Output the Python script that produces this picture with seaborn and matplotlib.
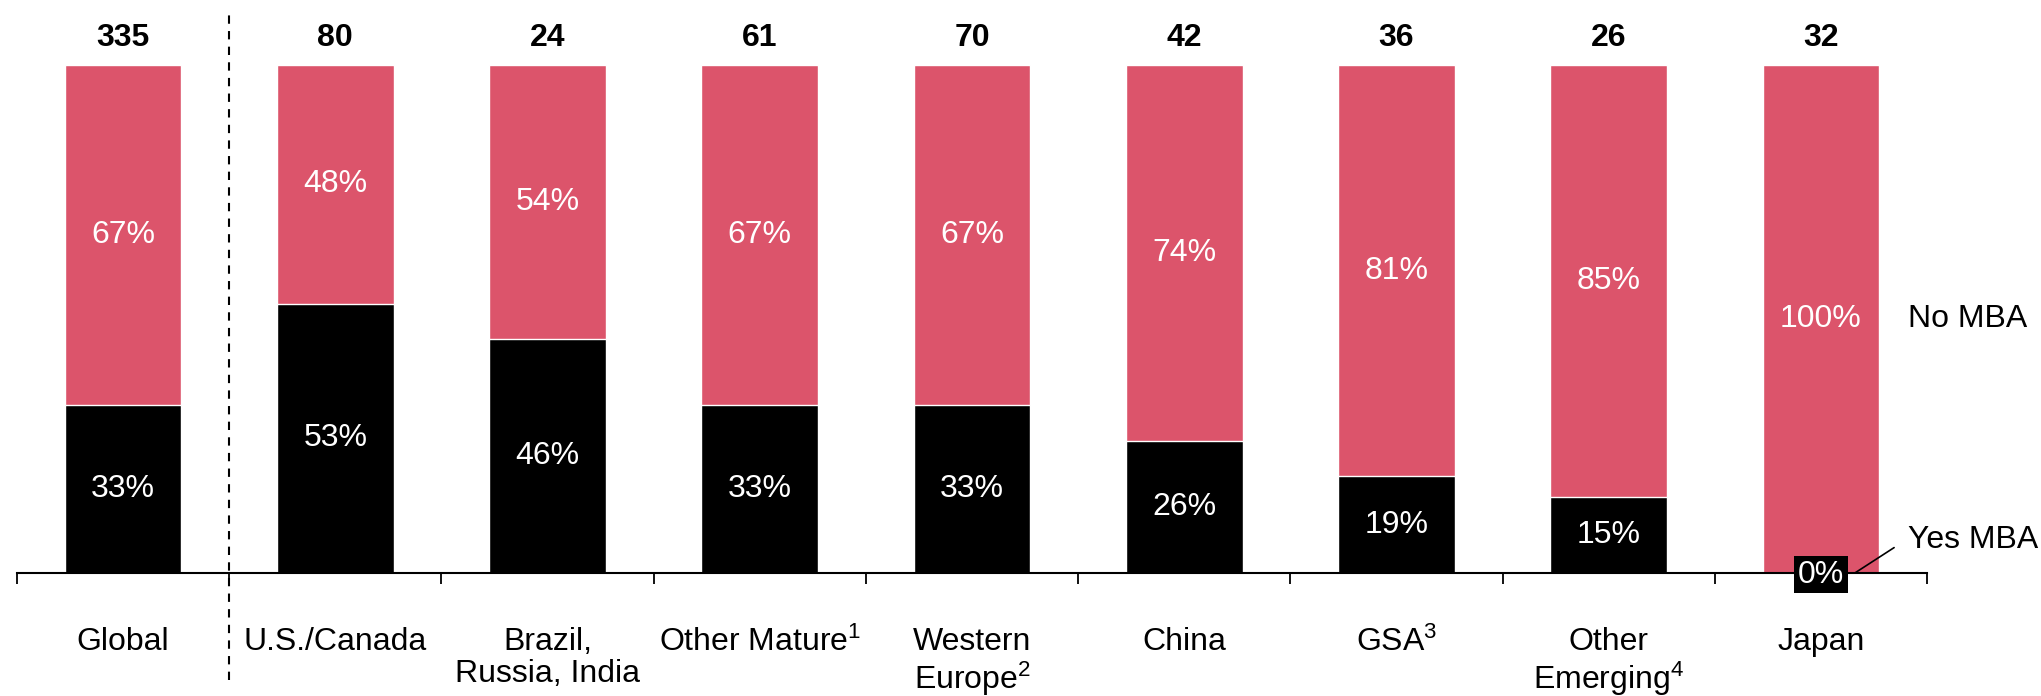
import matplotlib
matplotlib.use("Agg")
import matplotlib.pyplot as plt
import numpy as np
import pandas as pd
import seaborn as sns

# ---- data ----
categories = ["Global", "U.S./Canada", "Brazil, Russia, India", "Other Mature",
              "Western Europe", "China", "GSA", "Other Emerging", "Japan"]
tick_labels = ["Global", "U.S./Canada", "Brazil,\nRussia, India", "Other Mature$^{1}$",
               "Western\nEurope$^{2}$", "China", "GSA$^{3}$", "Other\nEmerging$^{4}$", "Japan"]
totals = [335, 80, 24, 61, 70, 42, 36, 26, 32]
yes_mba = [33, 53, 46, 33, 33, 26, 19, 15, 0]
no_mba = [67, 48, 54, 67, 67, 74, 81, 85, 100]
full_share = [100] * len(categories)

PINK = "#DC546B"
BLACK = "#000000"

sns.set_theme(style="white")
plt.rcParams["font.family"] = ["Liberation Sans", "DejaVu Sans"]
plt.rcParams["mathtext.fontset"] = "custom"
plt.rcParams["mathtext.rm"] = "Liberation Sans"
plt.rcParams["mathtext.it"] = "Liberation Sans:italic"
plt.rcParams["mathtext.bf"] = "Liberation Sans:bold"

df = pd.DataFrame({"cat": categories, "yes": yes_mba, "no": no_mba,
                   "full": full_share, "total": totals})

fig = plt.figure(figsize=(20.41, 6.96), dpi=100)
ax = fig.add_axes([17 / 2041, 123 / 696, 1910 / 2041, 508 / 696])

sns.barplot(data=df, x="cat", y="full", color=PINK, saturation=1, width=0.55,
            edgecolor="white", linewidth=1, ax=ax)
sns.barplot(data=df, x="cat", y="yes", color=BLACK, saturation=1, width=0.55,
            edgecolor="white", linewidth=1, ax=ax)

ax.set_xlim(-0.5, len(categories) - 0.5)
ax.set_ylim(0, 100)
ax.set_xlabel("")
ax.set_ylabel("")
ax.set_yticks([])

for s in ["top", "right", "left"]:
    ax.spines[s].set_visible(False)
ax.spines["bottom"].set_color("black")
ax.spines["bottom"].set_linewidth(1.5)

ax.set_xticks(range(len(categories)))
ax.set_xticklabels(tick_labels, fontsize=23, color="black", linespacing=1.08)
ax.tick_params(axis="x", which="major", length=0, pad=39)
ax.set_xticks(np.arange(-0.5, len(categories), 1.0), minor=True)
ax.tick_params(axis="x", which="minor", length=8, width=1.3, color="black",
               direction="out", bottom=True)

fs = 23
for i, (y, n, t) in enumerate(zip(yes_mba, no_mba, totals)):
    ax.text(i, (y + 100) / 2, f"{n}%", ha="center", va="center",
            color="white", fontsize=fs)
    if y > 0:
        ax.text(i, y / 2, f"{y}%", ha="center", va="center",
                color="white", fontsize=fs)
    else:
        ax.text(i, -0.3, f"{y}%", ha="center", va="center", color="white",
                fontsize=fs, clip_on=False,
                bbox=dict(boxstyle="square,pad=0.12", fc="black", ec="none"))
    ax.text(i, 105.3, f"{t}", ha="center", va="center", color="black",
            fontsize=fs, fontweight="bold", clip_on=False)

# divider between Global and regions
ax.plot([0.5, 0.5], [-21, 110], color="black", lw=1.5, ls=(0, (4, 3.5)),
        clip_on=False)

# series labels
ax.text(8.41, 50, "No MBA", ha="left", va="center", fontsize=fs, color="black",
        clip_on=False)
ax.text(8.41, 6.5, "Yes MBA", ha="left", va="center", fontsize=fs, color="black",
        clip_on=False)
ax.plot([8.16, 8.345], [0, 5.0], color="black", lw=1.2, clip_on=False)

fig.savefig("out.png", dpi=100)
